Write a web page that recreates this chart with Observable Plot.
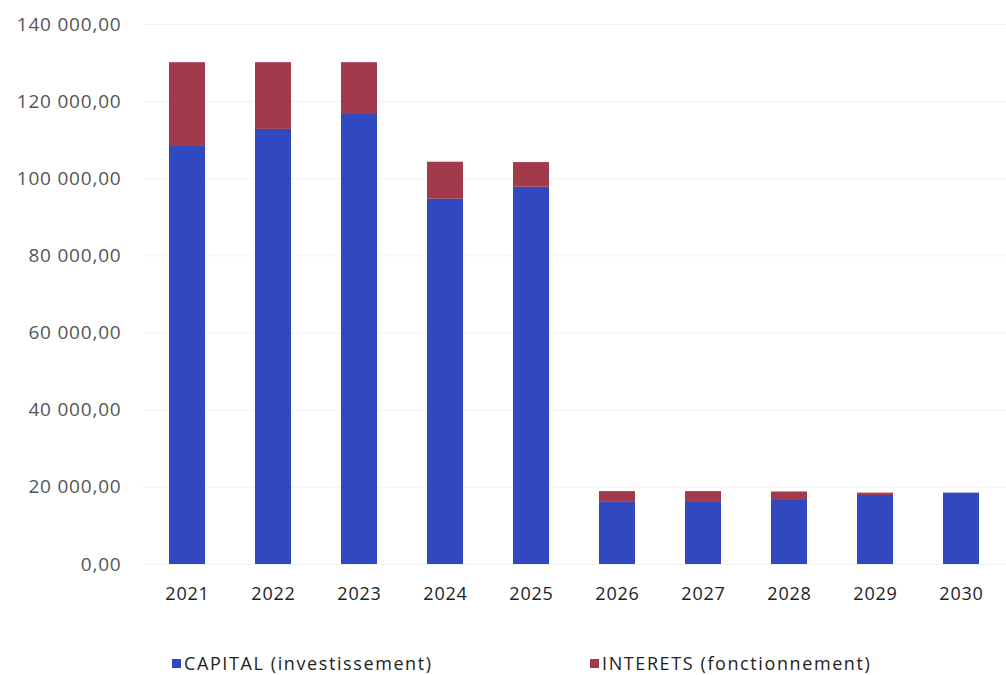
<!DOCTYPE html>
<html>
<head>
<meta charset="utf-8">
<script src="https://cdn.jsdelivr.net/npm/d3@7"></script>
<script src="https://cdn.jsdelivr.net/npm/@observablehq/plot@0.6"></script>
<style>
  html, body { margin: 0; padding: 0; background: #fff; }
  #wrap { position: relative; width: 1006px; height: 675px; font-family: "Open Sans", Lato, sans-serif; }
  .leg { position: absolute; top: 652px; font-size: 18px; letter-spacing: 1.6px; color: #222; display: flex; align-items: center; line-height: 22px; }
  .sw { width: 9px; height: 9px; margin-right: 3px; display: inline-block; }
</style>
</head>
<body>
<div id="wrap">
  <div id="chart"></div>
  <div class="leg" style="left:172px"><span class="sw" style="background:#3048c0"></span>CAPITAL (investissement)</div>
  <div class="leg" style="left:590px"><span class="sw" style="background:#a33a4c"></span>INTERETS (fonctionnement)</div>
</div>
<script>
const years = ["2021","2022","2023","2024","2025","2026","2027","2028","2029","2030"];
const capital = [108600, 112800, 116900, 94700, 97800, 16100, 16300, 16600, 17900, 18500];
const interets = [21500, 17300, 13200, 9600, 6400, 2800, 2600, 2200, 600, 0];
const seriesNames = ["CAPITAL (investissement)", "INTERETS (fonctionnement)"];
const yTicks = [0, 20000, 40000, 60000, 80000, 100000, 120000, 140000];
const colors = ["#3048c0", "#a33a4c"];

const data = [];
years.forEach((y, i) => {
  data.push({year: y, series: seriesNames[0], value: capital[i]});
  data.push({year: y, series: seriesNames[1], value: interets[i]});
});

const fr = d3.formatLocale({decimal: ",", thousands: "\u00a0", grouping: [3], currency: ["", " €"]});
const fmt = fr.format(",.2f");

const chart = Plot.plot({
  width: 1006,
  height: 645,
  marginLeft: 143,
  marginRight: 0,
  marginTop: 24,
  marginBottom: 81,
  style: {fontFamily: "'Open Sans', Lato, sans-serif", fontSize: "18px", background: "#fff", letterSpacing: "0.8px"},
  x: {domain: years, paddingInner: 0.58, paddingOuter: 0.29, label: null},
  y: {domain: [0, 140000], ticks: yTicks, label: null},
  color: {domain: seriesNames, range: colors},
  marks: [
    Plot.gridY(yTicks, {stroke: "#f3f3f3", strokeOpacity: 1}),
    Plot.barY(data, {x: "year", y: "value", fill: "series", order: seriesNames}),
    Plot.axisY({ticks: yTicks, tickSize: 0, tickPadding: 22, tickFormat: fmt, fill: "#555", fontSize: 19, label: null}),
    Plot.axisX({tickSize: 0, tickPadding: 23, fill: "#222", fontSize: 18, label: null})
  ]
});
document.getElementById("chart").appendChild(chart);
</script>
</body>
</html>
